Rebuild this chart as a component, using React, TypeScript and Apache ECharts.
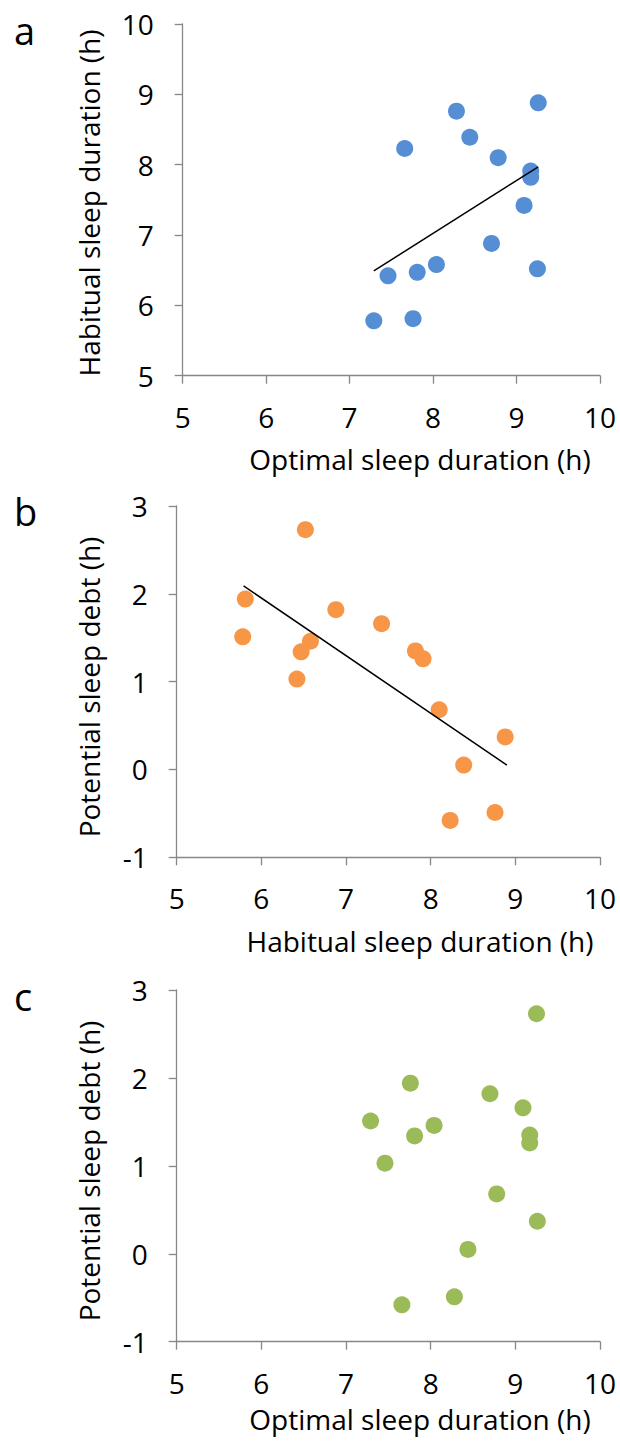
import React, { useEffect, useRef } from "react";
import * as echarts from "echarts";

// Per-participant values
const optimal = [7.29, 7.76, 7.46, 7.81, 8.04, 7.66, 8.28, 8.44, 8.78, 9.17, 9.17, 9.09, 8.7, 9.26, 9.25];
const habitual = [5.78, 5.81, 6.42, 6.47, 6.58, 8.23, 8.76, 8.39, 8.1, 7.91, 7.82, 7.42, 6.88, 8.88, 6.52];
const sleepDebt = [1.51, 1.94, 1.03, 1.34, 1.46, -0.58, -0.49, 0.05, 0.68, 1.26, 1.35, 1.66, 1.82, 0.37, 2.73];

// Trendline end points
const trendA = [
  [7.29, 6.49],
  [9.26, 7.97],
];
const trendB = [
  [5.79, 2.09],
  [8.9, 0.05],
];

const panelLetters = ["a", "b", "c"];
const xTitles = ["Optimal sleep duration (h)", "Habitual sleep duration (h)", "Optimal sleep duration (h)"];
const yTitles = ["Habitual sleep duration (h)", "Potential sleep debt (h)", "Potential sleep debt (h)"];
const xRange = [5, 10];
const yRanges = [
  [5, 10],
  [-1, 3],
  [-1, 3],
];
const colors = ["#568ED6", "#F79646", "#9BBB59"];

const FONT = "'Open Sans', 'DejaVu Sans', sans-serif";
const AXIS_COLOR = "#878787";

export default function App() {
  const ref = useRef<HTMLDivElement>(null);

  useEffect(() => {
    if (!ref.current) return;
    const chart = echarts.init(ref.current, null, { renderer: "svg" });

    const grids = [
      { left: 182.7, top: 24, width: 417.3, height: 351.7 },
      { left: 176.7, top: 506, width: 423.3, height: 351.3 },
      { left: 176.7, top: 990, width: 423.3, height: 351.7 },
    ];

    const xAxes = grids.map((_, i) => ({
      type: "value",
      gridIndex: i,
      min: xRange[0],
      max: xRange[1],
      interval: 1,
      axisLine: { show: true, onZero: false, lineStyle: { color: AXIS_COLOR, width: 1.3 } },
      axisTick: { show: true, inside: false, length: 8, lineStyle: { color: AXIS_COLOR, width: 1.3 } },
      splitLine: { show: false },
      axisLabel: {
        fontSize: 28,
        fontFamily: FONT,
        color: "#000",
        margin: 41,
        verticalAlign: "middle",
      },
    }));

    const yAxes = grids.map((_, i) => ({
      type: "value",
      gridIndex: i,
      min: yRanges[i][0],
      max: yRanges[i][1],
      interval: 1,
      axisLine: { show: true, onZero: false, lineStyle: { color: AXIS_COLOR, width: 1.3 } },
      axisTick: { show: true, inside: false, length: 8, lineStyle: { color: AXIS_COLOR, width: 1.3 } },
      splitLine: { show: false },
      axisLabel: {
        fontSize: 28,
        fontFamily: FONT,
        color: "#000",
        margin: 29,
        verticalAlign: "middle",
      },
    }));

    const pairs = [
      optimal.map((v, k) => [v, habitual[k]]),
      habitual.map((v, k) => [v, sleepDebt[k]]),
      optimal.map((v, k) => [v, sleepDebt[k]]),
    ];

    const series: any[] = pairs.map((data, i) => ({
      type: "scatter",
      xAxisIndex: i,
      yAxisIndex: i,
      data,
      symbol: "circle",
      symbolSize: 17,
      itemStyle: { color: colors[i], opacity: 1 },
      z: 2,
    }));
    [trendA, trendB].forEach((t, i) => {
      series.push({
        type: "line",
        xAxisIndex: i,
        yAxisIndex: i,
        data: t,
        symbol: "none",
        lineStyle: { color: "#000", width: 1.5 },
        z: 3,
      });
    });

    const letterPos = [
      { x: 14, y: 30 },
      { x: 14, y: 511 },
      { x: 14, y: 996 },
    ];
    const xTitleY = [459, 940.5, 1418.5];
    const yTitleY = [203, 687, 1171];

    const graphic: any[] = [];
    panelLetters.forEach((l, i) => {
      graphic.push({
        type: "text",
        x: letterPos[i].x,
        y: letterPos[i].y,
        style: {
          text: l,
          fontSize: 38,
          fontFamily: FONT,
          fill: "#000",
          textAlign: "left",
          textVerticalAlign: "middle",
        },
      });
      graphic.push({
        type: "text",
        x: 420,
        y: xTitleY[i],
        style: {
          text: xTitles[i],
          fontSize: 28,
          fontFamily: FONT,
          fill: "#000",
          textAlign: "center",
          textVerticalAlign: "middle",
        },
      });
      graphic.push({
        type: "text",
        x: 89,
        y: yTitleY[i],
        rotation: Math.PI / 2,
        style: {
          text: yTitles[i],
          fontSize: 28,
          fontFamily: FONT,
          fill: "#000",
          textAlign: "center",
          textVerticalAlign: "middle",
        },
      });
    });

    chart.setOption({
      animation: false,
      backgroundColor: "#fff",
      grid: grids.map((g) => ({ ...g, containLabel: false })),
      xAxis: xAxes,
      yAxis: yAxes,
      series,
      graphic,
    });

    return () => chart.dispose();
  }, []);

  return (
    <div
      ref={ref}
      style={{ position: "absolute", left: 0, top: 0, width: 620, height: 1444, background: "#fff" }}
    />
  );
}
